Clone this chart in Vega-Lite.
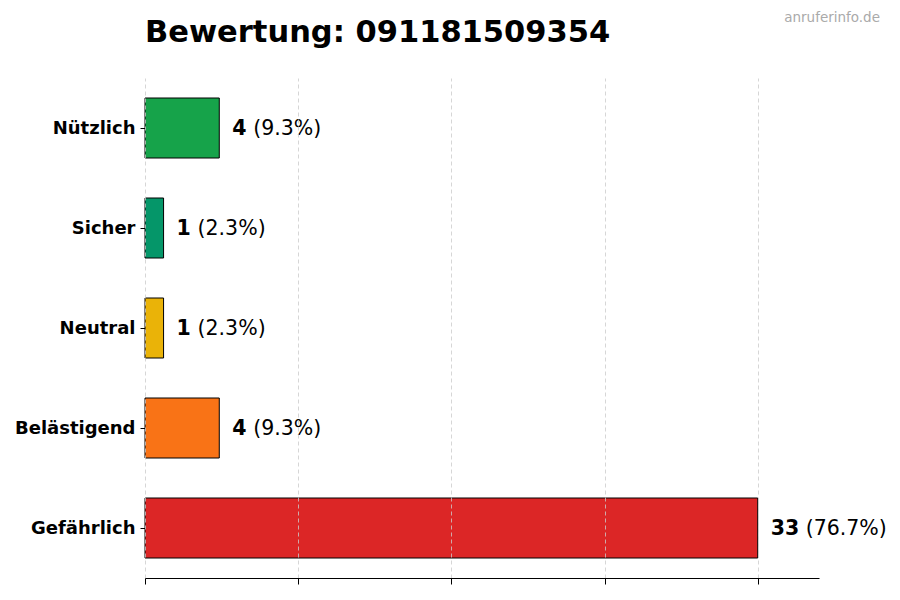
{
  "$schema": "https://vega.github.io/schema/vega-lite/v6.json",
  "autosize": "none",
  "width": 674,
  "height": 500,
  "padding": {"left": 145, "top": 78, "right": 81, "bottom": 22},
  "background": "white",
  "title": {
    "text": "Bewertung: 091181509354",
    "anchor": "start",
    "frame": "group",
    "font": "DejaVu Sans",
    "fontSize": 30.5,
    "fontWeight": "bold",
    "color": "black",
    "offset": 30,
    "dy": 67
  },
  "data": {
    "values": [
      {"kategorie": "Nützlich", "anzahl": 4, "anteil": "(9.3%)"},
      {"kategorie": "Sicher", "anzahl": 1, "anteil": "(2.3%)"},
      {"kategorie": "Neutral", "anzahl": 1, "anteil": "(2.3%)"},
      {"kategorie": "Belästigend", "anzahl": 4, "anteil": "(9.3%)"},
      {"kategorie": "Gefährlich", "anzahl": 33, "anteil": "(76.7%)"}
    ]
  },
  "encoding": {
    "y": {
      "field": "kategorie",
      "type": "nominal",
      "sort": null,
      "scale": {"paddingInner": 0.4, "paddingOuter": 0.2},
      "axis": {
        "title": null,
        "domain": false,
        "ticks": true,
        "tickSize": 5,
        "tickColor": "black",
        "labelFont": "DejaVu Sans",
        "labelFontSize": 18,
        "labelFontWeight": "bold",
        "labelColor": "black",
        "labelPadding": 5,
        "labelOffset": 1,
        "grid": false
      }
    },
    "x": {
      "field": "anzahl",
      "type": "quantitative",
      "scale": {"domain": [0, 36.3], "nice": false, "zero": true},
      "axis": {
        "title": null,
        "values": [0, 8.25, 16.5, 24.75, 33],
        "labels": false,
        "domainColor": "black",
        "domainWidth": 1,
        "tickColor": "black",
        "tickSize": 6,
        "grid": true,
        "gridColor": "#cccccc",
        "gridDash": [4, 3],
        "gridWidth": 0.8,
        "zindex": 1
      }
    }
  },
  "layer": [
    {
      "mark": {"type": "bar", "stroke": "black", "strokeWidth": 1},
      "encoding": {
        "color": {
          "field": "kategorie",
          "type": "nominal",
          "legend": null,
          "scale": {
            "domain": ["Nützlich", "Sicher", "Neutral", "Belästigend", "Gefährlich"],
            "range": ["#16a34a", "#059669", "#eab308", "#f97316", "#dc2626"]
          }
        }
      }
    },
    {
      "mark": {
        "type": "text",
        "align": "left",
        "baseline": "middle",
        "dx": 13,
        "dy": 1,
        "font": "DejaVu Sans",
        "fontSize": 20.5,
        "fontWeight": "bold",
        "color": "black"
      },
      "encoding": {"text": {"field": "anzahl", "type": "quantitative"}}
    },
    {
      "transform": [{"filter": "datum.anzahl < 10"}],
      "mark": {
        "type": "text",
        "align": "left",
        "baseline": "middle",
        "dx": 34,
        "dy": 1,
        "font": "DejaVu Sans",
        "fontSize": 20.5,
        "color": "black"
      },
      "encoding": {"text": {"field": "anteil", "type": "nominal"}}
    },
    {
      "transform": [{"filter": "datum.anzahl >= 10"}],
      "mark": {
        "type": "text",
        "align": "left",
        "baseline": "middle",
        "dx": 48,
        "dy": 1,
        "font": "DejaVu Sans",
        "fontSize": 20.5,
        "color": "black"
      },
      "encoding": {"text": {"field": "anteil", "type": "nominal"}}
    },
    {
      "data": {"values": [{"quelle": "anruferinfo.de"}]},
      "mark": {
        "type": "text",
        "align": "right",
        "baseline": "middle",
        "font": "DejaVu Sans",
        "fontSize": 13.5,
        "fill": "#aaaaaa"
      },
      "encoding": {
        "x": {"value": 735},
        "y": {"value": -60},
        "text": {"field": "quelle", "type": "nominal"}
      }
    }
  ],
  "config": {"view": {"stroke": null}}
}
